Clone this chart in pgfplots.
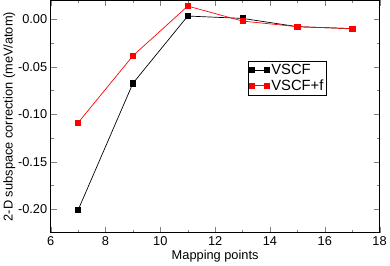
\documentclass[border=0pt]{standalone}
\usepackage{pgfplots}
\pgfplotsset{compat=1.18}
\usepackage{fontspec}
\setmainfont{Liberation Sans}
\begin{document}
\begin{tikzpicture}
\begin{axis}[
  scale only axis,
  width=334pt, height=236pt,
  xmin=6, xmax=18, ymin=-0.225, ymax=0.02,
  xtick={6,8,...,18},
  ytick={-0.20,-0.15,-0.10,-0.05,0.00},
  minor x tick num=1,
  minor y tick num=1,
  tick align=inside,
  major tick length=6pt,
  minor tick length=3pt,
  /pgf/number format/assume math mode=true,
  yticklabel style={/pgf/number format/.cd,fixed,fixed zerofill,precision=2},
  font=\fontsize{13}{15}\selectfont,
  ticklabel style={font=\fontsize{13}{15}\selectfont},
  xlabel={Mapping points},
  ylabel={2-D subspace correction (meV/atom)},
  xlabel style={yshift=2pt},
  ylabel style={yshift=-4pt},
  axis line style={line width=0.8pt},
  legend style={at={(0.6,0.74)},anchor=north west,draw=black,line width=0.5pt,inner sep=1pt,row sep=0pt,font=\fontsize{15}{17}\selectfont},
  legend cell align=left,
  legend image code/.code={\draw[#1,mark=none] (0pt,0pt) -- (15pt,0pt);
     \path[#1] plot coordinates {(0pt,0pt) (15pt,0pt)};},
]
\addplot[black, line width=0.7pt, mark=square*, mark size=2.7pt] coordinates {
(7,-0.201) (9,-0.0674) (11,0.0035) (13,0.001) (15,-0.0077) (17,-0.0098)};
\addlegendentry{VSCF}
\addplot[red, line width=0.7pt, mark=square*, mark size=2.7pt] coordinates {
(7,-0.109) (9,-0.0384) (11,0.014) (13,-0.0018) (15,-0.0077) (17,-0.0098)};
\addlegendentry{VSCF+f}
\end{axis}
\end{tikzpicture}
\end{document}
